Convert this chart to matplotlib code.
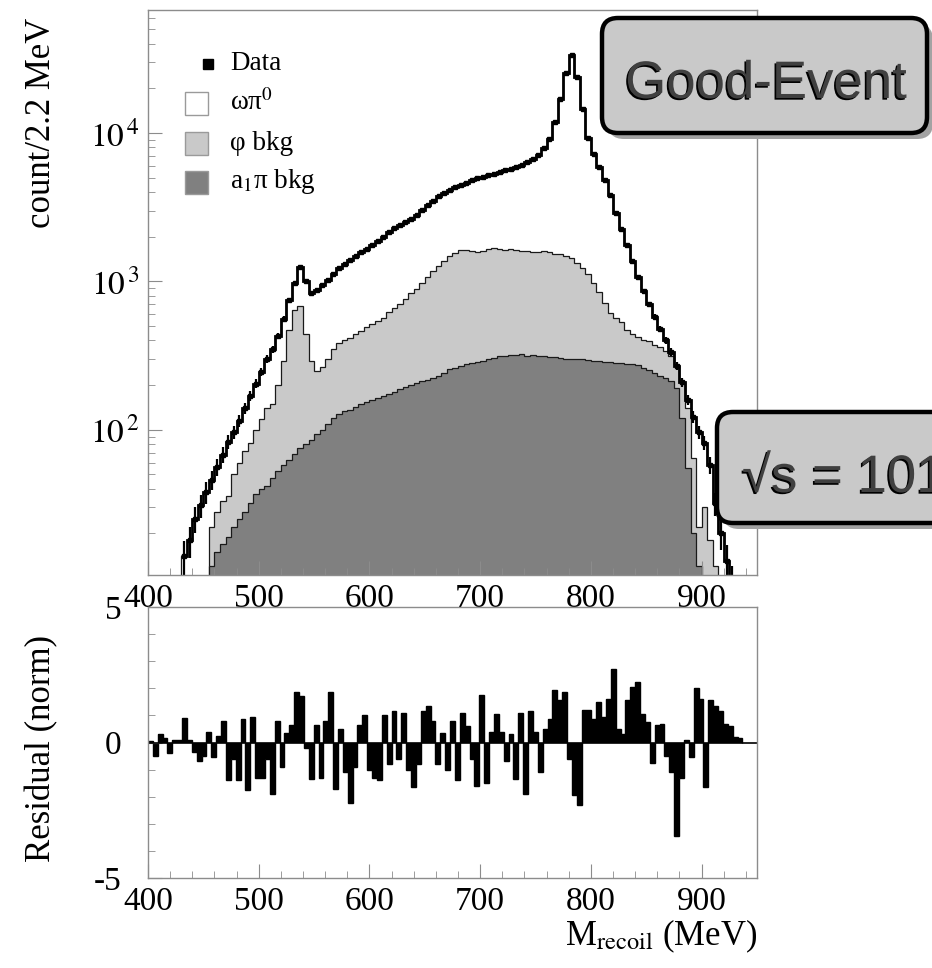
import numpy as np
import matplotlib
matplotlib.use("Agg")
import matplotlib.pyplot as plt
import matplotlib.patheffects as pe
from matplotlib.patches import FancyBboxPatch, Rectangle
from matplotlib.lines import Line2D
from matplotlib.ticker import (FixedLocator, FixedFormatter, MultipleLocator,
                               LogLocator, NullFormatter)

plt.rcParams['font.family'] = ['Liberation Serif', 'DejaVu Serif']
plt.rcParams['mathtext.fontset'] = 'stix'

# stacked histograms, 5 MeV bins from 430 to 930 MeV (counts per 2.2 MeV)
edges = np.arange(430, 935, 5)

data = [14, 18, 25, 31, 38, 46, 56, 68, 83, 96,
        115, 140, 170, 205, 245, 300, 350, 430, 560, 750,
        980, 1250, 1000, 830, 870, 940, 1020, 1130, 1230, 1310,
        1390, 1480, 1570, 1660, 1770, 1880, 2000, 2150, 2280, 2400,
        2520, 2640, 2800, 3050, 3300, 3500, 3750, 3950, 4150, 4300,
        4480, 4640, 4800, 4950, 5080, 5200, 5330, 5470, 5600, 5760,
        5900, 6100, 6350, 6650, 7100, 7900, 9100, 11800, 17000, 25500,
        33500, 24000, 14500, 9300, 7200, 5900, 4800, 3800, 2900, 2250,
        1750, 1380, 1080, 860, 700, 580, 480, 400, 335, 270,
        210, 160, 122, 97, 82, 58, 32, 20, 13, 9]

# a1pi + phi stacked level
phi_stack = [0, 0, 0, 0, 0, 22, 28, 33, 36, 50,
             60, 72, 82, 100, 118, 140, 150, 200, 290, 470,
             640, 680, 440, 290, 250, 265, 300, 350, 385, 400,
             415, 440, 460, 495, 520, 545, 570, 620, 660, 700,
             760, 830, 890, 980, 1080, 1170, 1280, 1380, 1480, 1560,
             1620, 1640, 1600, 1590, 1610, 1650, 1680, 1660, 1640, 1650,
             1630, 1600, 1610, 1590, 1580, 1600, 1570, 1540, 1520, 1490,
             1430, 1330, 1240, 1120, 980, 850, 720, 610, 570, 530,
             470, 440, 420, 405, 395, 375, 360, 340, 315, 275,
             210, 140, 65, 22, 30, 18, 12, 0, 0, 0]

a1pi = [0, 0, 0, 0, 0, 12, 15, 17, 19, 22,
        25, 28, 32, 37, 40, 42, 47, 53, 58, 63,
        69, 75, 80, 86, 93, 100, 110, 120, 127, 133,
        137, 143, 149, 154, 158, 163, 168, 174, 180, 187,
        195, 202, 207, 212, 217, 222, 232, 242, 255, 262,
        270, 278, 284, 288, 292, 298, 305, 312, 316, 320,
        318, 322, 315, 318, 312, 316, 310, 308, 305, 302,
        300, 298, 300, 296, 292, 290, 288, 285, 284, 282,
        278, 276, 272, 262, 252, 240, 232, 222, 212, 190,
        120, 55, 20, 12, 0, 0, 0, 0, 0, 0]

# normalised residuals, 4.4 MeV bins starting at 400 MeV
res_width = 4.4
resid = [0.05, -0.5, 0.3, 0.15, -0.4, 0.1, 0.1, 0.9, 0.1, -0.35,
         -0.7, -0.5, 0.4, -0.55, 0.25, 0.8, -1.4, -0.6, -1.4, 0.85,
         -1.75, 0.95, -1.3, -1.3, -0.6, -1.9, 0.8, -0.9, 0.35, 0.65,
         1.85, 1.7, -0.2, -1.35, 0.65, -1.3, 0.8, 1.85, -1.7, 0.5,
         -1.1, -2.25, -0.9, 0.65, 1.0, -1.0, -1.3, -1.4, 1.0, -0.8,
         1.15, -0.6, 1.1, -1.0, -1.65, -0.8, 1.15, 1.35, 0.8, -0.8,
         0.35, -1.0, 0.8, -1.4, 1.1, 0.6, -0.6, -1.6, 1.75, -1.5,
         0.4, 1.05, 0.4, -0.7, 0.3, -1.35, 1.1, -1.9, 1.15, 0.4,
         -1.1, 0.5, 0.85, 1.95, 1.55, 1.85, -0.6, -1.95, -2.3, 1.2,
         1.2, 0.85, 1.5, 0.95, 1.6, 2.7, 0.5, 0.3, 1.55, 2.05,
         2.25, 1.05, 0.75, -0.75, 0.65, 0.7, -0.5, -1.1, -3.45, -1.3,
         0.1, -0.55, 2.0, 1.6, -1.65, 1.55, 1.35, 1.15, 0.7, 0.6,
         0.2, 0.15]

legend_labels = ['Data', 'ωπ$^{0}$', 'φ bkg', 'a$_{1}$π bkg']
c_white, c_phi, c_a1 = 'white', '#c9c9c9', '#808080'
frame_col = '#8c8c8c'

W, H = 932, 968


def fx(x):
    return x / W


def fy(y):
    return 1 - y / H


fig = plt.figure(figsize=(W / 100, H / 100), dpi=100)
ax = fig.add_axes([fx(148), fy(575), fx(757) - fx(148), fy(10) - fy(575)])
ax2 = fig.add_axes([fx(148), fy(878), fx(757) - fx(148), fy(607) - fy(878)])

# ---- upper panel: stacked histograms on log scale
floor = 1.0
tot = np.asarray(data, float)
phi = np.asarray(phi_stack, float)
a1 = np.asarray(a1pi, float)
ax.set_yscale('log')
for vals, col in [(tot, c_white), (phi, c_phi), (a1, c_a1)]:
    v = np.maximum(vals, floor)
    ax.stairs(v, edges, baseline=floor, fill=True, facecolor=col,
              edgecolor='none')
    ax.stairs(v, edges, baseline=floor, color='#1a1a1a', lw=0.9)

ok = tot > 0
centers = 0.5 * (edges[1:] + edges[:-1])
ax.stairs(tot, edges, baseline=None, color='black', lw=2.0)
ax.errorbar(centers[ok], tot[ok], yerr=np.sqrt(tot[ok]), fmt='s', ms=3,
            color='black', elinewidth=1.6, capsize=0)

ax.set_xlim(400, 950)
ax.set_ylim(10.5, 67600)
ax.xaxis.set_major_locator(MultipleLocator(100))
ax.xaxis.set_minor_locator(MultipleLocator(20))
ax.yaxis.set_major_locator(FixedLocator([1e2, 1e3, 1e4]))
ax.yaxis.set_major_formatter(FixedFormatter([r'$10^{\,2}$', r'$10^{\,3}$',
                                             r'$10^{\,4}$']))
ax.yaxis.set_minor_locator(LogLocator(subs=np.arange(2, 10)))
ax.yaxis.set_minor_formatter(NullFormatter())

# ---- lower panel: residuals
redges = 400 + res_width * np.arange(len(resid) + 1)
ax2.stairs(resid, redges, baseline=0, fill=True, color='black')
ax2.stairs(resid, redges, baseline=0, color='black', lw=1)
ax2.axhline(0, color='black', lw=1.2)
ax2.set_xlim(400, 950)
ax2.set_ylim(-5, 5)
ax2.xaxis.set_major_locator(MultipleLocator(100))
ax2.xaxis.set_minor_locator(MultipleLocator(20))
ax2.yaxis.set_major_locator(FixedLocator([-5, 0, 5]))
ax2.yaxis.set_major_formatter(FixedFormatter(['-5', '0', '5']))
ax2.yaxis.set_minor_locator(MultipleLocator(1))

for a in (ax, ax2):
    for s in a.spines.values():
        s.set_color(frame_col)
        s.set_linewidth(1)
    a.tick_params(which='both', direction='in', top=False, right=False,
                  color=frame_col, labelsize=24, pad=6)
    a.tick_params(which='major', length=10)
    a.tick_params(which='minor', length=5)
# residual labels sit further out so they clear the x labels
ax2.tick_params(axis='y', which='major', pad=19)

# axis titles
fig.text(fx(42), fy(18), 'count/2.2 MeV', rotation=90, ha='center',
         va='top', fontsize=25)
fig.text(fx(42), fy(748), 'Residual (norm)', rotation=90, ha='center',
         va='center', fontsize=25)
fig.text(fx(757), fy(945), r'M$_{\mathrm{recoil}}$ (MeV)', ha='right',
         va='baseline', fontsize=25)

# legend
rows_y = [64, 103, 143, 182]
faces = [None, c_white, c_phi, c_a1]
for lab, face, y in zip(legend_labels, faces, rows_y):
    if face is None:
        fig.add_artist(Line2D([fx(208)], [fy(y)], marker='s', ms=7,
                              color='black', transform=fig.transFigure))
    else:
        fig.add_artist(Rectangle((fx(185), fy(y + 12)), 23 / W, 23 / H,
                                 transform=fig.transFigure, facecolor=face,
                                 edgecolor='#9a9a9a', lw=1))
    fig.text(fx(230), fy(y), lab, fontsize=19.5, va='center')


def tag_box(x0, y0, x1, y1, text, tx, ty, ha):
    w, h = (x1 - x0) / 100, (y1 - y0) / 100
    bx, by = x0 / 100, (H - y1) / 100
    style = 'round,pad=0,rounding_size=0.16'
    fig.add_artist(FancyBboxPatch((bx + 0.06, by - 0.06), w, h,
                                  boxstyle=style, transform=fig.dpi_scale_trans,
                                  facecolor='#a3a3a3', edgecolor='none'))
    fig.add_artist(FancyBboxPatch((bx, by), w, h, boxstyle=style,
                                  transform=fig.dpi_scale_trans,
                                  facecolor='#c9c9c9', edgecolor='black',
                                  lw=3.2))
    fig.text(fx(tx), fy(ty), text, ha=ha, va='baseline', fontsize=38,
             family=['Liberation Sans', 'DejaVu Sans'], color='#404040',
             path_effects=[pe.withSimplePatchShadow(offset=(-1.2, -1.2),
                                                    shadow_rgbFace='black',
                                                    alpha=1)])


tag_box(602, 18, 927, 133, 'Good-Event', 766, 98, 'center')
tag_box(717, 412, 1100, 523, '√s = 1019 MeV', 742, 492, 'left')

fig.savefig('out.png', dpi=100)
